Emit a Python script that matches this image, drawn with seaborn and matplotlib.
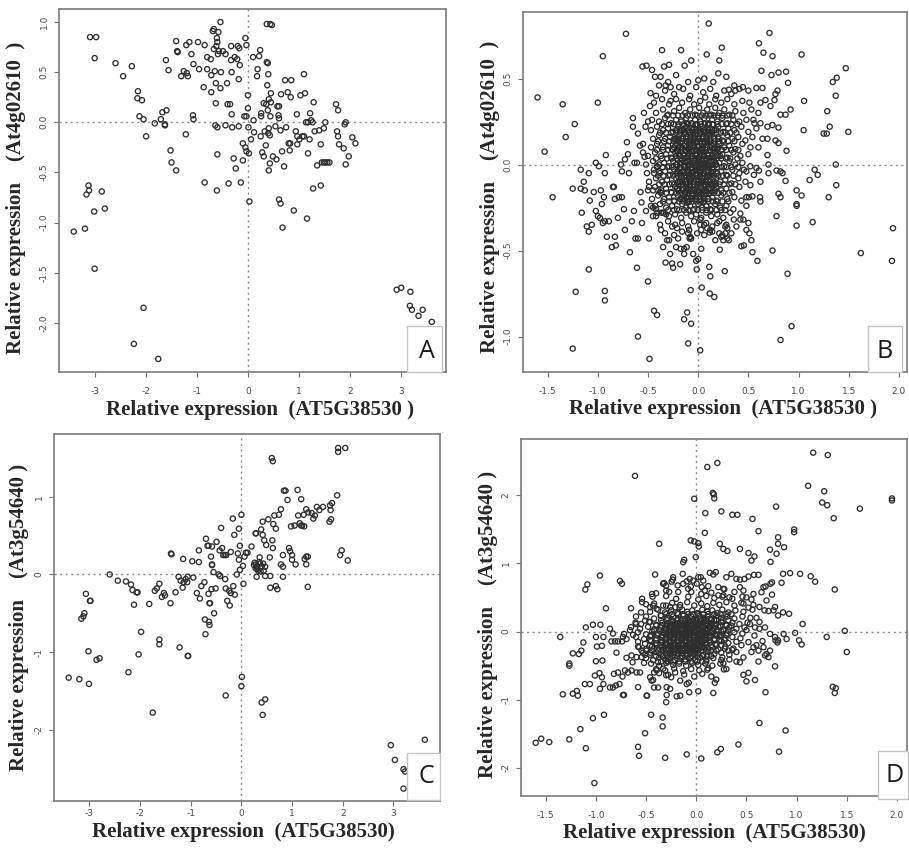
import numpy as np
import matplotlib
matplotlib.use('Agg')
import matplotlib.pyplot as plt
import seaborn as sns
from matplotlib.patches import Rectangle

sns.set_style('ticks')
plt.rcParams['font.family'] = ['DejaVu Sans']
plt.rcParams['axes.unicode_minus'] = False

# ---- data: (x, y) pairs, flattened ----
# A: AT5G38530 vs At4g02610 (set 1)
a_xy = [
    -3.10, 0.85, -2.98, 0.85, -3.01, 0.64, -2.60, 0.59, -2.45, 0.46, -2.28, 0.56, -2.16, 0.31, -2.17, 0.24,
    -2.08, 0.22, -2.13, 0.06, -2.05, 0.03, -2.00, -0.14, -1.83, -0.01, -1.71, 0.03, -1.68, 0.10, -1.60, 0.12,
    -1.63, -0.02, -1.63, -0.03, -1.61, 0.62, -1.56, 0.52, -1.52, -0.28, -1.50, -0.40, -1.41, -0.48, -1.41, 0.81,
    -1.39, 0.71, -1.38, 0.70, -1.31, 0.46, -1.26, 0.51, -1.20, 0.49, -1.18, 0.46, -1.22, -0.12, -1.21, 0.77,
    -1.15, 0.80, -1.11, 0.68, -1.08, 0.07, -1.07, 0.03, -1.07, 0.58, -0.98, 0.80, -0.96, 0.53, -0.87, 0.35,
    -0.85, 0.77, -0.85, -0.60, -0.80, 0.53, -0.80, 0.65, -0.73, 0.63, -0.72, 0.30, -0.72, 0.47, -0.65, 0.51,
    -0.69, 0.91, -0.67, 0.93, -0.67, 0.73, -0.62, 0.76, -0.63, 0.39, -0.64, -0.03, -0.63, 0.19, -0.61, 0.84,
    -0.60, 0.80, -0.60, -0.05, -0.60, -0.32, -0.61, -0.68, -0.58, 0.90, -0.59, 0.68, -0.57, 0.71, -0.54, 1.00,
    -0.54, 0.34, -0.53, 0.50, -0.49, 0.71, -0.44, 0.68, -0.44, -0.03, -0.41, 0.39, -0.40, 0.18, -0.38, -0.61,
    -0.35, 0.18, -0.33, 0.76, -0.33, 0.62, -0.26, 0.65, -0.21, 0.63, -0.32, 0.50, -0.32, 0.08, -0.31, -0.05,
    -0.28, -0.36, -0.24, -0.46, -0.20, 0.76, -0.17, 0.74, -0.03, 0.77, -0.05, 0.84, -0.16, 0.57, -0.18, 0.43,
    -0.18, -0.04, -0.14, -0.60, -0.10, -0.38, -0.10, -0.21, -0.05, -0.25, -0.03, -0.29, 0.02, -0.31, -0.07, 0.06,
    -0.03, 0.06, 0.00, 0.27, 0.00, 0.14, 0.01, -0.05, 0.03, -0.79, 0.06, -0.17, 0.10, 0.65, 0.11, 0.02,
    0.12, -0.10, 0.18, 0.46, 0.22, 0.66, 0.19, 0.53, 0.24, 0.72, 0.25, -0.14, 0.26, 0.09, 0.26, 0.06,
    0.28, -0.30, 0.31, -0.34, 0.31, 0.19, 0.36, 0.18, 0.33, -0.09, 0.35, -0.23, 0.37, 0.60, 0.39, 0.59,
    0.37, 0.98, 0.44, 0.98, 0.47, 0.97, 0.40, 0.48, 0.38, 0.37, 0.39, 0.12, 0.41, -0.06, 0.40, -0.11,
    0.43, -0.13, 0.41, 0.23, 0.43, -0.41, 0.41, -0.48, 0.45, 0.29, 0.44, 0.06, 0.45, 0.20, 0.49, -0.34,
    0.54, -0.04, 0.56, -0.37, 0.58, 0.16, 0.61, 0.16, 0.60, 0.07, 0.61, 0.04, 0.61, -0.77, 0.64, -0.81,
    0.64, -0.08, 0.65, 0.28, 0.67, -0.29, 0.68, -1.05, 0.71, -0.44, 0.73, 0.42, 0.85, 0.42, 0.75, -0.05,
    0.78, 0.30, 0.80, -0.21, 0.83, -0.21, 0.82, -0.28, 0.84, 0.25, 0.90, -0.88, 0.94, -0.09, 0.97, -0.14,
    0.97, -0.22, 0.96, 0.08, 1.01, -0.17, 1.03, 0.27, 1.07, -0.14, 1.10, -0.14, 1.10, 0.48, 1.12, 0.29,
    1.14, 0.00, 1.18, 0.00, 1.16, -0.96, 1.18, -0.31, 1.21, -0.17, 1.22, 0.09, 1.24, 0.02, 1.27, 0.00,
    1.28, -0.66, 1.29, 0.20, 1.31, -0.09, 1.36, -0.43, 1.40, -0.08, 1.43, -0.22, 1.43, -0.63, 1.45, -0.40,
    1.49, -0.40, 1.52, -0.40, 1.56, -0.40, 1.60, -0.40, 1.52, 0.00, 1.49, -0.06, 1.73, 0.18, 1.77, 0.12,
    1.75, -0.09, 1.77, -0.14, 1.79, -0.22, 1.88, -0.26, 1.90, -0.02, 1.92, 0.00, 1.92, -0.42, 1.98, -0.34,
    2.05, -0.15, 2.11, -0.21, -3.42, -1.09, -3.20, -1.06, -3.17, -0.72, -3.13, -0.63, -3.12, -0.68, -3.02, -0.89,
    -2.87, -0.69, -2.81, -0.86, -3.01, -1.46, -2.05, -1.85, -2.24, -2.21, -1.76, -2.36, 2.92, -1.67, 3.01, -1.65,
    3.19, -1.69, 3.18, -1.83, 3.22, -1.87, 3.35, -1.93, 3.43, -1.87, 3.61, -1.99, 3.61, -2.08,
]

# B: AT5G38530 vs At4g02610 (set 2)
b_xy = [
    # outer points
    -1.60, 0.39, -1.53, 0.075, -1.45, -0.19, -1.35, 0.35, -1.32, 0.16, -1.23, 0.235, -1.17, -0.03, -1.14, -0.10,
    -1.25, -0.14, -1.17, -0.14, -1.13, -0.15, -1.16, -0.28, -1.09, -0.05, -1.08, -0.21, -1.11, -0.36, -1.09, -0.39,
    -1.06, -0.35, -1.04, -0.16, -1.02, 0.01, -1.00, 0.36, -0.99, -0.01, -1.02, -0.27, -1.00, -0.30, -0.98, -0.31,
    -0.97, -0.15, -0.96, -0.23, -0.94, -0.19, -0.95, -0.34, -0.93, -0.33, -0.95, 0.63, -0.93, -0.05, -0.92, 0.055,
    -0.91, -0.42, -0.89, -0.33, -0.85, -0.13, -0.84, -0.13, -0.86, -0.48, -0.83, -0.42, -0.82, -0.47, -0.80, -0.31,
    -0.83, -0.20, -0.79, -0.19, -0.77, 0.00, -0.76, -0.04, -0.76, -0.19, -0.74, -0.26, -0.73, 0.03, -0.73, -0.38,
    -0.72, 0.76, -0.71, 0.13, -0.70, 0.06, -0.69, -0.05, -0.68, -0.51, -0.66, -0.33, -0.65, 0.27, -0.65, 0.22,
    -0.64, -0.27, -0.635, 0.01, -0.61, 0.01, -0.625, -0.43, -0.60, -0.43, -0.61, -0.60, -0.60, -1.00, -0.60, 0.18,
    -0.58, 0.11, -0.575, -0.16, -0.565, -0.22, -0.555, 0.57, -0.515, 0.575, -0.54, 0.30, -0.56, -0.34, -0.55, 0.07,
    -0.535, 0.045, -0.525, 0.22, -0.52, -0.27, -0.50, -0.68, -0.49, -0.43, -0.485, -1.13, -0.475, 0.415, -0.46, 0.55,
    -0.44, -0.85, -0.41, -0.875, -0.43, 0.51, -0.36, 0.665, -0.34, 0.57, -0.29, 0.58, -0.17, 0.665, -0.07, 0.605,
    -0.135, 0.575, -0.39, 0.46, -0.375, 0.51, -0.37, -0.38, -0.35, -0.48, -0.325, -0.57, -0.26, -0.575, -0.25, -0.60,
    -0.325, 0.46, -0.275, 0.45, -0.275, 0.37, -0.29, -0.44, -0.19, 0.45, -0.175, -0.49, -0.14, -0.49, -0.115, -0.48,
    -0.14, -0.90, -0.11, -0.86, -0.10, -1.04, -0.075, -0.73, -0.07, -0.925, -0.02, -0.56, 0.00, -0.55, 0.03, -0.49,
    -0.015, -0.61, 0.02, -1.08, 0.035, -0.715, 0.085, 0.64, 0.105, 0.82, 0.11, -0.595, 0.12, -0.65, 0.115, -0.75,
    0.16, -0.77, 0.21, 0.605, 0.235, 0.68, 0.265, -0.62, 0.305, 0.435, 0.37, 0.43, 0.445, 0.45, 0.43, -0.475,
    0.455, -0.47, 0.50, -0.34, 0.51, -0.40, 0.53, -0.44, 0.54, -0.51, 0.59, -0.56, 0.605, 0.705, 0.65, 0.65,
    0.71, 0.765, 0.74, 0.63, 0.63, 0.545, 0.73, 0.52, 0.80, 0.535, 0.875, 0.54, 0.895, 0.475, 0.74, -0.50,
    0.89, -0.635, 0.93, -0.94, 0.82, -1.02, 1.03, 0.64, 1.055, 0.37, 1.05, 0.20, 0.98, -0.15, 1.03, -0.18,
    0.98, -0.23, 0.98, -0.24, 0.98, -0.355, 1.11, -0.09, 1.16, -0.03, 1.19, -0.06, 1.14, -0.335, 1.285, 0.31,
    1.31, 0.22, 1.25, 0.18, 1.28, 0.18, 1.30, -0.19, 1.34, 0.48, 1.38, 0.505, 1.37, 0.40, 1.37, 0.00,
    1.375, -0.12, 1.47, 0.56, 1.495, 0.19, 1.62, -0.515, 1.94, -0.37, 1.93, -0.56, -1.22, -0.74, -1.25, -1.07,
    -1.09, -0.61, -0.93, -0.735, -0.93, -0.79,
    # middle ring
    0.58, 0.445, 0.64, 0.445, 0.62, 0.36, 0.67, 0.375, 0.72, 0.34, 0.76, 0.375, 0.79, 0.43, 0.77, 0.41,
    0.82, 0.29, 0.87, 0.29, 0.92, 0.32, 0.69, 0.22, 0.74, 0.23, 0.80, 0.215, 0.64, 0.15, 0.69, 0.15,
    0.77, 0.14, 0.80, 0.125, 0.88, 0.08, 0.69, 0.055, 0.70, 0.00, 0.62, -0.10, 0.70, -0.05, 0.78, -0.035,
    0.82, -0.04, 0.84, -0.05, 0.87, -0.095, 0.80, -0.17, 0.82, -0.19, 0.78, -0.30, 0.615, -0.19, 0.62, -0.215,
    0.54, -0.185, 0.505, -0.19, 0.48, -0.19, 0.555, -0.06, 0.605, -0.035, 0.455, -0.03, 0.42, -0.285, 0.45, -0.32,
    0.305, -0.44, 0.29, -0.43, 0.27, -0.40, 0.29, -0.37, 0.215, -0.495, 0.17, -0.44, 0.21, -0.40, 0.24, -0.41,
    0.25, -0.44, 0.19, -0.34, 0.27, -0.36, 0.27, -0.265, 0.355, -0.32, 0.42, -0.32, 0.48, -0.38, 0.12, -0.38,
    0.115, -0.395, 0.09, -0.37, 0.03, -0.38, 0.06, -0.35, 0.02, -0.32, -0.09, -0.38, -0.10, -0.40, -0.07, -0.43,
    -0.14, -0.52, -0.085, -0.43, -0.21, -0.37, -0.26, -0.36, -0.31, -0.44, -0.22, -0.48, -0.32, -0.29, -0.34, -0.28,
    -0.37, -0.28, -0.42, -0.26, -0.47, -0.24, -0.43, -0.24, -0.41, -0.28, -0.45, -0.30, -0.45, -0.15, -0.40, -0.15,
    -0.38, -0.16, -0.49, -0.13, -0.44, -0.05, -0.39, -0.04, -0.41, -0.01, -0.55, 0.12, -0.50, 0.25, -0.48, 0.34,
    -0.42, 0.40, -0.30, 0.48, -0.22, 0.52, -0.10, 0.48, 0.00, 0.49, 0.06, 0.50, 0.15, 0.48, 0.20, 0.53,
    0.28, 0.51, 0.36, 0.46, 0.50, 0.43, 0.55, 0.26, 0.60, 0.30, 0.62, 0.24, 0.60, 0.10, 0.58, -0.02,
    0.52, -0.12, 0.48, -0.24, 0.38, -0.36, 0.33, -0.40, -0.20, -0.43, -0.28, -0.52, -0.18, -0.58, -0.05, -0.52,
    # dense core
    -0.33, 0.43, -0.24, 0.41, -0.15, 0.44, -0.08, 0.40, -0.02, 0.45, 0.05, 0.42, 0.12, 0.44, 0.18, 0.40,
    0.26, 0.43, 0.33, 0.41, 0.41, 0.44,
    -0.44, 0.36, -0.36, 0.38, -0.29, 0.35, -0.22, 0.38, -0.16, 0.36, -0.09, 0.38, -0.04, 0.35, 0.02, 0.37,
    0.07, 0.39, 0.11, 0.35, 0.17, 0.38, 0.23, 0.36, 0.29, 0.38, 0.36, 0.35, 0.44, 0.37, 0.51, 0.36,
    -0.42, 0.30, -0.35, 0.32, -0.30, 0.29, -0.24, 0.31, -0.19, 0.33, -0.13, 0.30, -0.08, 0.32, -0.03, 0.29,
    0.01, 0.33, 0.05, 0.30, 0.09, 0.32, 0.13, 0.29, 0.17, 0.33, 0.21, 0.30, 0.26, 0.32, 0.31, 0.29,
    0.37, 0.31, 0.45, 0.30, 0.53, 0.32,
    -0.46, 0.26, -0.39, 0.25, -0.33, 0.27, -0.27, 0.24, -0.22, 0.26, -0.17, 0.25, -0.12, 0.27, -0.07, 0.24,
    -0.03, 0.26, 0.02, 0.25, 0.06, 0.27, 0.10, 0.24, 0.14, 0.26, 0.19, 0.25, 0.24, 0.27, 0.29, 0.24,
    0.35, 0.26, 0.41, 0.25, 0.48, 0.26, 0.56, 0.24,
    -0.47, 0.20, -0.41, 0.22, -0.35, 0.20, -0.30, 0.21, -0.25, 0.19, -0.20, 0.22, -0.16, 0.20, -0.12, 0.22,
    -0.08, 0.19, -0.04, 0.21, 0.00, 0.20, 0.04, 0.22, 0.08, 0.19, 0.12, 0.21, 0.16, 0.20, 0.20, 0.22,
    0.25, 0.19, 0.30, 0.21, 0.36, 0.20, 0.43, 0.22, 0.50, 0.19, 0.58, 0.21,
    -0.45, 0.15, -0.39, 0.17, -0.33, 0.15, -0.28, 0.16, -0.23, 0.14, -0.19, 0.17, -0.15, 0.15, -0.11, 0.16,
    -0.07, 0.14, -0.03, 0.17, 0.01, 0.15, 0.05, 0.16, 0.09, 0.14, 0.12, 0.17, 0.16, 0.15, 0.20, 0.16,
    0.24, 0.14, 0.29, 0.17, 0.34, 0.15, 0.40, 0.16, 0.47, 0.14, 0.54, 0.16,
    -0.47, 0.10, -0.41, 0.12, -0.35, 0.10, -0.30, 0.11, -0.26, 0.09, -0.22, 0.12, -0.18, 0.10, -0.14, 0.11,
    -0.10, 0.09, -0.07, 0.12, -0.04, 0.10, -0.01, 0.11, 0.03, 0.09, 0.06, 0.12, 0.09, 0.10, 0.13, 0.11,
    0.17, 0.09, 0.21, 0.12, 0.26, 0.10, 0.31, 0.11, 0.37, 0.09, 0.44, 0.12, 0.52, 0.10,
    -0.50, 0.05, -0.43, 0.07, -0.37, 0.05, -0.32, 0.06, -0.27, 0.04, -0.23, 0.07, -0.19, 0.05, -0.15, 0.06,
    -0.12, 0.04, -0.09, 0.07, -0.06, 0.05, -0.03, 0.06, 0.00, 0.04, 0.03, 0.07, 0.06, 0.05, 0.09, 0.06,
    0.12, 0.04, 0.16, 0.07, 0.20, 0.05, 0.24, 0.06, 0.29, 0.04, 0.35, 0.07, 0.42, 0.05, 0.50, 0.06,
    -0.52, 0.00, -0.45, 0.02, -0.39, 0.00, -0.34, 0.01, -0.29, -0.01, -0.25, 0.02, -0.21, 0.00, -0.17, 0.01,
    -0.14, -0.01, -0.11, 0.02, -0.08, 0.00, -0.05, 0.01, -0.02, -0.01, 0.01, 0.02, 0.04, 0.00, 0.07, 0.01,
    0.10, -0.01, 0.13, 0.02, 0.17, 0.00, 0.21, 0.01, 0.26, -0.01, 0.31, 0.02, 0.37, 0.00, 0.44, 0.01, 0.52, -0.01,
    -0.51, -0.05, -0.44, -0.03, -0.38, -0.05, -0.33, -0.04, -0.28, -0.06, -0.24, -0.03, -0.20, -0.05, -0.16, -0.04,
    -0.13, -0.06, -0.10, -0.03, -0.07, -0.05, -0.04, -0.04, -0.01, -0.06, 0.02, -0.03, 0.05, -0.05, 0.08, -0.04,
    0.11, -0.06, 0.15, -0.03, 0.19, -0.05, 0.23, -0.04, 0.28, -0.06, 0.34, -0.03, 0.41, -0.05, 0.48, -0.04,
    -0.49, -0.10, -0.42, -0.08, -0.36, -0.10, -0.31, -0.09, -0.26, -0.11, -0.22, -0.08, -0.18, -0.10, -0.14, -0.09,
    -0.11, -0.11, -0.08, -0.08, -0.05, -0.10, -0.02, -0.09, 0.01, -0.11, 0.04, -0.08, 0.07, -0.10, 0.10, -0.09,
    0.14, -0.11, 0.18, -0.08, 0.22, -0.10, 0.27, -0.09, 0.33, -0.11, 0.40, -0.08, 0.47, -0.10,
    -0.50, -0.15, -0.43, -0.13, -0.37, -0.15, -0.32, -0.14, -0.27, -0.16, -0.23, -0.13, -0.19, -0.15, -0.15, -0.14,
    -0.12, -0.16, -0.09, -0.13, -0.06, -0.15, -0.03, -0.14, 0.00, -0.16, 0.03, -0.13, 0.06, -0.15, 0.10, -0.14,
    0.14, -0.16, 0.18, -0.13, 0.23, -0.15, 0.28, -0.14, 0.34, -0.16, 0.41, -0.13,
    -0.46, -0.20, -0.40, -0.18, -0.34, -0.20, -0.29, -0.19, -0.24, -0.21, -0.20, -0.18, -0.16, -0.20, -0.12, -0.19,
    -0.09, -0.21, -0.06, -0.18, -0.03, -0.20, 0.00, -0.19, 0.03, -0.21, 0.06, -0.18, 0.10, -0.20, 0.14, -0.19,
    0.18, -0.21, 0.23, -0.18, 0.29, -0.20, 0.36, -0.19, 0.43, -0.21,
    -0.45, -0.25, -0.38, -0.23, -0.32, -0.25, -0.26, -0.24, -0.21, -0.26, -0.16, -0.23, -0.12, -0.25, -0.08, -0.24,
    -0.04, -0.26, 0.00, -0.23, 0.04, -0.25, 0.08, -0.24, 0.12, -0.26, 0.17, -0.23, 0.22, -0.25, 0.28, -0.24,
    0.35, -0.26,
    -0.42, -0.30, -0.35, -0.28, -0.29, -0.30, -0.23, -0.29, -0.17, -0.31, -0.12, -0.28, -0.07, -0.30, -0.02, -0.29,
    0.03, -0.31, 0.08, -0.28, 0.13, -0.30, 0.19, -0.29, 0.25, -0.31, 0.32, -0.28,
    -0.38, -0.35, -0.30, -0.33, -0.23, -0.35, -0.16, -0.34, -0.10, -0.36, -0.04, -0.33, 0.02, -0.35, 0.08, -0.34,
    0.14, -0.36, 0.21, -0.33, 0.28, -0.35,
    -0.33, -0.40, -0.24, -0.41, -0.16, -0.39, -0.08, -0.42, -0.01, -0.40, 0.06, -0.41, 0.14, -0.39, 0.23, -0.42,
    -0.18, 0.13, -0.13, 0.19, -0.09, 0.13, -0.05, 0.18, -0.01, 0.13, 0.03, 0.19, 0.07, 0.13, 0.11, 0.18,
    0.15, 0.12, -0.20, 0.08, -0.16, 0.03, -0.12, 0.08, -0.08, 0.02, -0.04, 0.08, 0.00, 0.02, 0.04, 0.08,
    0.08, 0.03, 0.12, 0.08, 0.16, 0.02, -0.18, -0.02, -0.14, -0.07, -0.10, -0.01, -0.06, -0.07, -0.02, -0.02,
    0.02, -0.07, 0.06, -0.01, 0.10, -0.07, 0.14, -0.02, -0.17, -0.12, -0.13, -0.17, -0.09, -0.12, -0.05, -0.17,
    -0.01, -0.12, 0.03, -0.17, 0.07, -0.12, 0.11, -0.17, 0.15, -0.12, -0.22, 0.15, 0.19, 0.09, -0.21, -0.14,
    0.17, -0.15, -0.03, 0.23, 0.05, -0.22, -0.11, 0.24, 0.10, 0.23, -0.10, -0.22, 0.01, 0.03, -0.01, -0.03,
    0.09, 0.00, -0.08, 0.10,
]

# B: extra rows of the blackened centre, (y, x positions along the row)
b_core_rows = [
    (0.285, [-0.31, -0.25, -0.20, -0.155, -0.105, -0.055, -0.01, 0.035, 0.075, 0.115, 0.155, 0.195, 0.24, 0.29, 0.34]),
    (0.235, [-0.36, -0.30, -0.245, -0.195, -0.145, -0.10, -0.055, -0.015, 0.025, 0.065, 0.105, 0.145, 0.19, 0.235,
             0.28, 0.33, 0.39]),
    (0.185, [-0.38, -0.32, -0.27, -0.22, -0.175, -0.135, -0.095, -0.055, -0.02, 0.02, 0.06, 0.10, 0.14, 0.18,
             0.225, 0.27, 0.32, 0.38]),
    (0.135, [-0.40, -0.34, -0.29, -0.245, -0.20, -0.16, -0.12, -0.085, -0.05, -0.015, 0.02, 0.055, 0.09, 0.125,
             0.165, 0.21, 0.255, 0.30, 0.36]),
    (0.085, [-0.41, -0.35, -0.30, -0.255, -0.21, -0.17, -0.13, -0.095, -0.06, -0.025, 0.01, 0.045, 0.08, 0.115,
             0.15, 0.19, 0.235, 0.28, 0.33, 0.40]),
    (0.035, [-0.42, -0.36, -0.31, -0.26, -0.215, -0.175, -0.135, -0.10, -0.065, -0.03, 0.005, 0.04, 0.075, 0.11,
             0.145, 0.185, 0.23, 0.275, 0.32, 0.39]),
    (-0.015, [-0.41, -0.355, -0.305, -0.26, -0.215, -0.175, -0.135, -0.10, -0.065, -0.03, 0.005, 0.04, 0.075,
              0.11, 0.15, 0.19, 0.235, 0.28, 0.33, 0.40]),
    (-0.065, [-0.40, -0.345, -0.295, -0.25, -0.205, -0.165, -0.125, -0.09, -0.055, -0.02, 0.015, 0.05, 0.085,
              0.12, 0.16, 0.20, 0.245, 0.29, 0.35]),
    (-0.115, [-0.39, -0.335, -0.285, -0.24, -0.195, -0.155, -0.115, -0.08, -0.045, -0.01, 0.025, 0.06, 0.095,
              0.13, 0.17, 0.21, 0.255, 0.31, 0.37]),
    (-0.165, [-0.37, -0.315, -0.265, -0.22, -0.175, -0.135, -0.095, -0.06, -0.025, 0.01, 0.045, 0.08, 0.12, 0.16,
              0.20, 0.25, 0.31]),
    (-0.215, [-0.35, -0.29, -0.24, -0.19, -0.145, -0.10, -0.06, -0.02, 0.02, 0.06, 0.10, 0.145, 0.19, 0.24, 0.30]),
    (-0.265, [-0.30, -0.24, -0.19, -0.14, -0.095, -0.05, -0.005, 0.04, 0.085, 0.13, 0.18, 0.23]),
    (0.200, [-0.22, -0.18, -0.14, -0.10, -0.06, -0.02, 0.02, 0.06, 0.10, 0.14, 0.18]),
    (0.150, [-0.24, -0.20, -0.16, -0.12, -0.08, -0.04, 0.00, 0.04, 0.08, 0.12, 0.16, 0.20]),
    (0.100, [-0.24, -0.20, -0.16, -0.12, -0.08, -0.04, 0.00, 0.04, 0.08, 0.12, 0.16, 0.20]),
    (0.050, [-0.22, -0.18, -0.14, -0.10, -0.06, -0.02, 0.02, 0.06, 0.10, 0.14, 0.18, 0.22]),
    (0.000, [-0.22, -0.18, -0.14, -0.10, -0.06, -0.02, 0.02, 0.06, 0.10, 0.14, 0.18]),
    (-0.050, [-0.22, -0.18, -0.14, -0.10, -0.06, -0.02, 0.02, 0.06, 0.10, 0.14, 0.18]),
    (-0.100, [-0.20, -0.16, -0.12, -0.08, -0.04, 0.00, 0.04, 0.08, 0.12, 0.16]),
    (-0.150, [-0.20, -0.16, -0.12, -0.08, -0.04, 0.00, 0.04, 0.08, 0.12]),
    (-0.200, [-0.18, -0.14, -0.10, -0.06, -0.02, 0.02, 0.06, 0.10]),
]

# C: AT5G38530 vs At3g54640 (set 1)
c_xy = [
    -3.41, -1.33, -3.20, -1.35, -3.01, -1.41, -3.02, -0.99, -2.86, -1.10, -2.80, -1.08, -3.07, -0.25, -2.99, -0.34,
    -2.98, -0.34, -3.16, -0.57, -3.12, -0.54, -3.10, -0.50, -2.60, 0.00, -2.44, -0.08, -2.28, -0.09, -2.18, -0.13,
    -2.15, -0.20, -2.07, -0.23, -2.05, -0.23, -2.12, -0.39, -1.98, -0.74, -2.03, -1.03, -2.23, -1.26, -1.82, -0.38,
    -1.75, -1.78, -1.71, -0.21, -1.67, -0.18, -1.62, -0.12, -1.62, -0.84, -1.62, -0.90, -1.57, -0.29, -1.53, -0.24,
    -1.51, -0.27, -1.40, -0.37, -1.39, 0.27, -1.38, 0.26, -1.30, -0.23, -1.22, -0.94, -1.24, -0.03, -1.20, -0.08,
    -1.15, 0.20, -1.16, -0.17, -1.14, -0.10, -1.10, -0.06, -1.07, -0.10, -1.06, -1.05, -1.05, -1.05, -1.06, -0.03,
    -0.97, 0.17, -0.95, -0.04, -0.88, -0.24, -0.84, 0.16, -0.84, 0.31, -0.82, -0.31, -0.79, -0.15, -0.73, -0.10,
    -0.70, 0.46, -0.72, -0.58, -0.64, -0.61, -0.71, -0.77, -0.67, 0.37, -0.65, 0.37, -0.65, -0.25, -0.63, -0.37,
    -0.62, -0.37, -0.63, -0.65, -0.60, 0.23, -0.58, 0.13, -0.58, 0.12, -0.59, -0.19, -0.58, 0.36, -0.55, 0.03,
    -0.54, -0.50, -0.51, -0.18, -0.49, 0.42, -0.45, 0.00, -0.42, -0.02, -0.43, 0.31, -0.40, 0.60, -0.38, 0.34,
    -0.36, 0.25, -0.33, 0.25, -0.30, 0.25, -0.32, -0.06, -0.31, -0.18, -0.24, -0.21, -0.21, -0.24, -0.31, -1.56,
    -0.28, -0.34, -0.23, -0.40, -0.21, 0.29, -0.17, 0.72, -0.16, -0.15, -0.14, 0.51, -0.13, -0.26, -0.09, 0.00,
    -0.07, 0.27, -0.05, 0.19, -0.05, 0.59, -0.03, 0.37, -0.03, 0.06, 0.00, 0.77, 0.01, -1.32, 0.00, -1.44,
    0.03, 0.11, 0.04, -0.12, 0.06, 0.23, 0.09, 0.28, 0.12, 0.28, 0.20, 0.36, 0.28, 0.53, 0.29, 0.53,
    0.26, 0.15, 0.29, 0.13, 0.30, 0.10, 0.32, 0.07, 0.30, -0.03, 0.36, 0.22, 0.37, 0.14, 0.40, 0.10,
    0.43, 0.14, 0.47, 0.10, 0.39, 0.58, 0.42, 0.68, 0.42, 0.51, 0.45, 0.44, 0.49, 0.38, 0.47, -0.02,
    0.40, -1.65, 0.47, -1.61, 0.42, -1.81, 0.53, 0.71, 0.56, 0.22, 0.57, -0.02, 0.57, -0.17, 0.60, 1.50,
    0.62, 1.46, 0.61, 0.44, 0.62, 0.34, 0.63, 0.65, 0.65, 0.76, 0.68, -0.15, 0.71, -0.19, 0.68, 0.59,
    0.74, 0.77, 0.78, 0.84, 0.78, 0.13, 0.82, 0.10, 0.82, 0.25, 0.82, -0.03, 0.84, 1.08, 0.87, 1.08,
    0.91, 0.96, 0.94, 0.34, 0.96, 0.30, 0.98, 0.62, 1.00, 0.25, 1.00, 0.19, 1.05, 0.63, 1.07, 0.13,
    1.11, 1.09, 1.12, 0.76, 1.15, 0.66, 1.18, 0.97, 1.18, 0.63, 1.20, 0.63, 1.24, 0.62, 1.23, 0.77,
    1.25, 0.20, 1.28, 0.23, 1.31, 0.23, 1.28, 0.13, 1.28, 0.84, 1.32, 0.80, 1.31, -0.16, 1.39, 0.79,
    1.45, 0.76, 1.49, 0.87, 1.54, 0.83, 1.61, 0.87, 1.42, 0.72, 1.75, 0.89, 1.79, 0.92, 1.77, 0.71,
    1.74, 0.68, 1.76, 0.83, 1.89, 1.02, 1.91, 1.58, 1.91, 1.63, 2.05, 1.63, 1.95, 0.25, 1.98, 0.31,
    2.10, 0.18, 2.95, -2.20, 3.03, -2.39, 3.20, -2.51, 3.23, -2.54, 3.20, -2.76, 3.38, -2.76, 3.46, -2.40,
    3.62, -2.42, 3.62, -2.13, 0.25, 0.12, 0.33, 0.05, 0.35, 0.16, 0.28, 0.08, 0.38, 0.04, 0.44, 0.05,
]

# D: AT5G38530 vs At3g54640 (set 2)
d_xy = [
    # outer points
    -1.60, -1.63, -1.545, -1.57, -1.465, -1.62, -1.355, -0.08, -1.33, -0.92, -1.265, -1.58, -1.265, -0.47, -1.265, -0.50,
    -1.23, -0.32, -1.23, -0.91, -1.19, -0.87, -1.18, -0.94, -1.17, -0.33, -1.145, -0.28, -1.155, -1.43, -1.125, -0.16,
    -1.11, -0.77, -1.105, 0.615, -1.085, 0.69, -1.10, -1.71, -1.10, 0.06, -1.06, -0.77, -1.03, 0.10, -1.03, -1.27,
    -1.015, -2.22, -1.01, -0.645, -1.00, -0.08, -0.99, -0.22, -1.00, -0.435, -0.96, 0.82, -0.955, 0.10, -0.965, -0.61,
    -0.94, -0.67, -0.925, -0.77, -0.94, -0.21, -0.925, -0.08, -0.935, -0.425, -0.96, -0.84, -0.92, -1.22, -0.90, 0.34,
    -0.86, 0.04, -0.83, -0.03, -0.86, -0.82, -0.83, -0.82, -0.80, -0.79, -0.765, -0.77, -0.845, -0.145, -0.81, -0.145,
    -0.78, -0.145, -0.74, -0.145, -0.82, -0.62, -0.78, -0.60, -0.795, -0.31, -0.76, 0.74, -0.74, 0.70, -0.735, -0.66,
    -0.73, -0.93, -0.72, -0.93, -0.71, -0.57, -0.68, -0.60, -0.645, -0.57, -0.72, -0.035, -0.695, -0.385, -0.65, 0.34,
    -0.65, 0.065, -0.635, -0.45, -0.61, 2.28, -0.605, 0.13, -0.60, 0.11, -0.595, -0.60, -0.56, -0.60, -0.58, -1.69,
    -0.57, -1.82, -0.58, -0.815, -0.54, 0.48, -0.54, 0.43, -0.51, -1.49, -0.51, 0.16, -0.495, -0.94, -0.49, -0.94,
    -0.46, 0.14, -0.45, -1.22, -0.445, -0.72, -0.44, 0.55, -0.435, 0.51, -0.42, -0.82, -0.41, 0.835, -0.38, -0.82,
    -0.37, 1.285, -0.355, 0.235, -0.335, -1.26, -0.335, -1.39, -0.31, -1.85, -0.30, -1.035, -0.295, -0.815, -0.26, -0.84,
    -0.295, -0.93, -0.32, 0.71, -0.30, 0.67, -0.27, 0.58, -0.23, 0.795, -0.235, 0.76, -0.195, -0.95, -0.16, -0.94,
    -0.13, 1.015, -0.12, 1.05, -0.135, 0.845, -0.095, -1.80, -0.07, -0.89, -0.055, 1.335, -0.02, 1.32, -0.02, 1.945,
    -0.005, 1.09, 0.02, -0.875, 0.02, 1.295, 0.025, 1.245, 0.05, -1.86, 0.085, 1.445, 0.09, 1.735, 0.11, 2.41,
    0.165, 2.03, 0.175, 2.01, 0.18, 1.95, 0.17, -0.90, 0.21, 2.47, 0.21, -1.77, 0.245, -1.72, 0.25, 1.76,
    0.235, 1.285, 0.27, 1.21, 0.31, 1.18, 0.36, 1.71, 0.41, 1.71, 0.42, -1.655, 0.435, 1.21, 0.52, 1.15,
    0.58, 1.10, 0.55, 1.04, 0.56, 1.65, 0.62, 1.47, 0.63, -1.34, 0.69, -0.89, 0.735, 1.20, 0.74, 1.02,
    0.795, 1.83, 0.80, 1.14, 0.815, 1.38, 0.815, 1.285, 0.825, -1.76, 0.875, 1.235, 0.89, -1.45, 0.975, 1.495,
    0.975, 1.455, 1.035, 0.845, 1.06, 0.11, 1.115, 2.135, 1.14, 0.81, 1.185, 0.73, 1.165, 2.62, 1.275, 2.055,
    1.255, 1.89, 1.305, 1.85, 1.31, 2.585, 1.30, -0.08, 1.36, -0.81, 1.39, -0.83, 1.38, -0.90, 1.37, 1.66,
    1.38, 0.615, 1.48, 0.01, 1.50, -0.30, 1.63, 1.80, 1.95, 1.95, 1.95, 1.92, 1.025, -0.13, 1.05, -0.19,
    0.985, -0.02, 0.87, -0.035, 0.90, -0.11, 0.785, -0.51, 0.925, 0.26, 0.865, 0.28, 0.815, 0.235, 0.785, 0.36,
    0.865, 0.845, 0.935, 0.855, 0.85, 0.715, 0.755, 0.72, 0.74, 0.70, 0.755, 0.54, 0.67, 0.65, 0.69, 0.66,
    0.62, 0.83, 0.575, 0.83, 0.52, 0.805, 0.48, 0.77, 0.435, 0.76, 0.62, -0.44, 0.585, -0.71, 0.50, -0.73,
    0.47, -0.635, 0.52, -0.605, 0.435, -0.45, 0.70, -0.33, 0.735, -0.28, 0.67, -0.23, 0.79, -0.13, 0.81, -0.16,
    0.275, -0.555, 0.27, -0.465, 0.20, -0.705, 0.185, -0.75, 0.11, -0.56, 0.36, -0.27, 0.32, -0.28, 0.285, -0.25,
    -0.16, -0.72, -0.095, -0.77, -0.075, -0.75, -0.25, -0.67, -0.28, -0.635, -0.33, -0.545, -0.395, -0.57, -0.42, -0.60,
    -0.46, -0.67, -0.43, -0.71, -0.51, -0.34, -0.545, -0.375, -0.46, 0.355, -0.43, 0.38, -0.395, 0.33, -0.30, 0.38,
    -0.26, 0.355, -0.21, 0.355, -0.165, 0.355, -0.095, 0.735, -0.065, 0.77, -0.03, 0.745, 0.02, 0.795, 0.045, 0.795,
    0.07, 0.745, 0.135, 0.86, 0.17, 0.835, 0.195, 0.87, 0.22, 0.65, 0.27, 0.625, 0.30, 0.795, 0.35, 0.845,
    0.40, 0.77,
    # middle ring
    -0.545, -0.28, -0.495, -0.28, -0.46, -0.31, -0.595, -0.375, -0.645, -0.35, -0.695, -0.11, -0.73, -0.08, -0.33, 0.70,
    -0.245, 0.73, -0.185, 0.675, -0.13, 0.70, -0.08, 0.625, -0.055, 0.66, 0.005, 0.70, 0.055, 0.65, 0.085, 0.60,
    0.12, 0.665, 0.22, 0.53, 0.26, 0.51, 0.33, 0.50, 0.435, 0.65, 0.47, 0.60, 0.50, 0.50, 0.57, 0.55,
    0.65, 0.575, 0.70, 0.455, 0.63, 0.36, 0.68, 0.31, 0.72, 0.30, 0.77, 0.31, 0.535, 0.11, 0.585, 0.06,
    0.63, 0.04, 0.685, 0.06, 0.735, -0.035, 0.785, -0.08, 0.815, -0.13, 0.52, -0.155, 0.57, -0.23, 0.62, -0.28,
    0.685, -0.35, 0.72, -0.375, 0.60, -0.20, 0.66, -0.14, 0.55, -0.30, 0.47, -0.38, 0.40, -0.44, 0.33, -0.41,
    0.26, -0.38, 0.30, -0.55, 0.15, -0.66, 0.06, -0.62, -0.02, -0.66, -0.12, -0.63, -0.21, -0.60, -0.30, -0.64,
    -0.37, -0.61, -0.52, -0.46, -0.58, -0.22, -0.63, -0.05, -0.66, 0.02, -0.60, 0.22, -0.55, 0.28, -0.50, 0.40,
    -0.40, 0.56, -0.30, 0.60, -0.18, 0.58, -0.05, 0.58, 0.05, 0.55, 0.15, 0.57, 0.28, 0.62, 0.38, 0.58,
    0.45, 0.42, 0.52, 0.35, 0.60, 0.20, 0.63, 0.14, 0.58, -0.06, 0.50, 0.02, 0.45, -0.20, 0.40, -0.30,
    # dense core
    -0.30, 0.52, -0.20, 0.48, -0.08, 0.51, 0.02, 0.47, 0.10, 0.52, 0.18, 0.49, 0.27, 0.53, 0.36, 0.48,
    0.46, 0.51, 0.55, 0.47,
    -0.42, 0.41, -0.33, 0.38, -0.24, 0.42, -0.16, 0.39, -0.09, 0.43, -0.02, 0.38, 0.05, 0.41, 0.11, 0.37,
    0.17, 0.42, 0.23, 0.39, 0.30, 0.43, 0.38, 0.38, 0.47, 0.41, 0.57, 0.39,
    -0.46, 0.29, -0.38, 0.32, -0.31, 0.28, -0.25, 0.31, -0.19, 0.27, -0.14, 0.32, -0.09, 0.29, -0.04, 0.31,
    0.01, 0.27, 0.06, 0.32, 0.11, 0.29, 0.16, 0.31, 0.21, 0.27, 0.26, 0.32, 0.32, 0.28, 0.39, 0.31,
    0.47, 0.29, 0.56, 0.32,
    -0.50, 0.22, -0.42, 0.19, -0.35, 0.23, -0.29, 0.20, -0.23, 0.22, -0.18, 0.18, -0.13, 0.23, -0.09, 0.20,
    -0.05, 0.22, -0.01, 0.18, 0.03, 0.23, 0.07, 0.20, 0.11, 0.22, 0.15, 0.18, 0.20, 0.23, 0.25, 0.20,
    0.31, 0.22, 0.38, 0.19, 0.46, 0.22, 0.54, 0.20,
    -0.55, 0.11, -0.47, 0.14, -0.40, 0.10, -0.34, 0.13, -0.29, 0.11, -0.24, 0.14, -0.20, 0.10, -0.16, 0.13,
    -0.12, 0.11, -0.08, 0.14, -0.04, 0.10, 0.00, 0.13, 0.04, 0.11, 0.08, 0.14, 0.12, 0.10, 0.16, 0.13,
    0.20, 0.11, 0.25, 0.14, 0.30, 0.10, 0.36, 0.13, 0.43, 0.11, 0.51, 0.13,
    -0.56, 0.04, -0.48, 0.07, -0.42, 0.03, -0.36, 0.06, -0.31, 0.04, -0.27, 0.07, -0.23, 0.03, -0.19, 0.06,
    -0.15, 0.04, -0.11, 0.07, -0.07, 0.03, -0.03, 0.06, 0.01, 0.04, 0.05, 0.07, 0.09, 0.03, 0.13, 0.06,
    0.17, 0.04, 0.22, 0.07, 0.27, 0.03, 0.33, 0.06, 0.40, 0.04, 0.48, 0.06,
    -0.58, -0.01, -0.50, -0.04, -0.44, 0.00, -0.38, -0.03, -0.33, -0.01, -0.29, -0.04, -0.25, 0.00, -0.21, -0.03,
    -0.17, -0.01, -0.13, -0.04, -0.09, 0.00, -0.05, -0.03, -0.01, -0.01, 0.03, -0.04, 0.07, 0.00, 0.11, -0.03,
    0.15, -0.01, 0.20, -0.04, 0.25, 0.00, 0.31, -0.03, 0.38, -0.01, 0.46, -0.03,
    -0.60, -0.08, -0.52, -0.11, -0.46, -0.07, -0.40, -0.10, -0.35, -0.08, -0.31, -0.11, -0.27, -0.07, -0.23, -0.10,
    -0.19, -0.08, -0.15, -0.11, -0.11, -0.07, -0.07, -0.10, -0.03, -0.08, 0.01, -0.11, 0.05, -0.07, 0.09, -0.10,
    0.13, -0.08, 0.18, -0.11, 0.23, -0.07, 0.29, -0.10, 0.36, -0.08, 0.44, -0.10,
    -0.58, -0.15, -0.51, -0.18, -0.45, -0.14, -0.40, -0.17, -0.35, -0.15, -0.31, -0.18, -0.27, -0.14, -0.23, -0.17,
    -0.19, -0.15, -0.15, -0.18, -0.11, -0.14, -0.07, -0.17, -0.03, -0.15, 0.01, -0.18, 0.05, -0.14, 0.09, -0.17,
    0.14, -0.15, 0.19, -0.18, 0.25, -0.14, 0.32, -0.17, 0.40, -0.15,
    -0.57, -0.23, -0.50, -0.26, -0.44, -0.22, -0.39, -0.25, -0.34, -0.23, -0.30, -0.26, -0.26, -0.22, -0.22, -0.25,
    -0.18, -0.23, -0.14, -0.26, -0.10, -0.22, -0.06, -0.25, -0.02, -0.23, 0.02, -0.26, 0.06, -0.22, 0.11, -0.25,
    0.16, -0.23, 0.22, -0.26, 0.29, -0.22, 0.37, -0.25,
    -0.53, -0.31, -0.46, -0.34, -0.40, -0.30, -0.35, -0.33, -0.30, -0.31, -0.26, -0.34, -0.22, -0.30, -0.18, -0.33,
    -0.14, -0.31, -0.10, -0.34, -0.06, -0.30, -0.02, -0.33, 0.02, -0.31, 0.07, -0.34, 0.12, -0.30, 0.18, -0.33,
    0.25, -0.31, 0.33, -0.34,
    -0.50, -0.39, -0.43, -0.42, -0.37, -0.38, -0.31, -0.41, -0.26, -0.39, -0.21, -0.42, -0.16, -0.38, -0.11, -0.41,
    -0.06, -0.39, -0.01, -0.42, 0.04, -0.38, 0.10, -0.41, 0.17, -0.39, 0.25, -0.42,
    -0.45, -0.47, -0.37, -0.50, -0.30, -0.46, -0.23, -0.49, -0.17, -0.47, -0.10, -0.50, -0.04, -0.46, 0.02, -0.49,
    0.09, -0.47, 0.16, -0.50, 0.24, -0.47,
    -0.40, -0.55, -0.31, -0.57, -0.22, -0.54, -0.13, -0.58, -0.05, -0.55, 0.03, -0.57, 0.12, -0.54,
    -0.25, 0.08, -0.21, 0.01, -0.17, 0.09, -0.13, 0.02, -0.09, 0.08, -0.05, 0.01, -0.01, 0.09, 0.03, 0.02,
    0.07, 0.08, 0.11, 0.01, 0.15, 0.08, -0.27, -0.05, -0.23, -0.12, -0.19, -0.05, -0.15, -0.13, -0.11, -0.04,
    -0.07, -0.12, -0.03, -0.05, 0.01, -0.13, 0.05, -0.04, 0.09, -0.12, 0.13, -0.05, -0.29, -0.19, -0.25, -0.28,
    -0.21, -0.20, -0.17, -0.29, -0.13, -0.20, -0.09, -0.28, -0.05, -0.19, -0.01, -0.28, 0.03, -0.20, -0.33, -0.36,
    -0.24, -0.36, -0.38, -0.45, -0.28, -0.44, -0.35, -0.20, 0.08, 0.17, 0.00, 0.17, -0.08, 0.17, 0.18, 0.16,
    -0.31, 0.06, 0.21, -0.06,
]

# D: extra rows of the blackened centre, (y, x positions along the row)
d_core_rows = [
    (0.255, [-0.30, -0.24, -0.18, -0.13, -0.08, -0.03, 0.02, 0.07, 0.12, 0.18, 0.24, 0.30, 0.35]),
    (0.165, [-0.35, -0.29, -0.24, -0.19, -0.15, -0.11, -0.07, -0.03, 0.01, 0.05, 0.10, 0.15, 0.20, 0.26, 0.32]),
    (0.085, [-0.40, -0.34, -0.29, -0.245, -0.20, -0.16, -0.12, -0.085, -0.05, -0.015, 0.02, 0.06, 0.10, 0.14,
             0.19, 0.24, 0.30, 0.35]),
    (0.015, [-0.42, -0.36, -0.31, -0.27, -0.23, -0.19, -0.15, -0.11, -0.075, -0.04, -0.005, 0.03, 0.07, 0.11,
             0.16, 0.21, 0.27, 0.32]),
    (-0.055, [-0.45, -0.39, -0.34, -0.295, -0.25, -0.21, -0.17, -0.13, -0.095, -0.06, -0.025, 0.01, 0.05, 0.09,
              0.14, 0.19, 0.24, 0.30]),
    (-0.125, [-0.46, -0.40, -0.35, -0.30, -0.26, -0.22, -0.18, -0.14, -0.105, -0.07, -0.035, 0.00, 0.04, 0.08,
              0.13, 0.18, 0.23, 0.28]),
    (-0.200, [-0.46, -0.40, -0.35, -0.305, -0.26, -0.22, -0.18, -0.14, -0.10, -0.065, -0.03, 0.01, 0.05, 0.10,
              0.15, 0.20, 0.25]),
    (-0.280, [-0.44, -0.38, -0.33, -0.28, -0.24, -0.20, -0.16, -0.12, -0.08, -0.04, 0.00, 0.05, 0.10, 0.15, 0.20]),
    (-0.360, [-0.40, -0.34, -0.29, -0.24, -0.19, -0.14, -0.09, -0.04, 0.01, 0.06, 0.11, 0.15]),
    (-0.440, [-0.35, -0.29, -0.23, -0.17, -0.11, -0.05, 0.01, 0.06, 0.10]),
    (0.120, [-0.26, -0.22, -0.18, -0.14, -0.10, -0.06, -0.02, 0.02, 0.06, 0.10, 0.14]),
    (0.050, [-0.30, -0.26, -0.22, -0.18, -0.14, -0.10, -0.06, -0.02, 0.02, 0.06, 0.10, 0.14, 0.18]),
    (-0.020, [-0.32, -0.28, -0.24, -0.20, -0.16, -0.12, -0.08, -0.04, 0.00, 0.04, 0.08, 0.12, 0.16]),
    (-0.090, [-0.34, -0.30, -0.26, -0.22, -0.18, -0.14, -0.10, -0.06, -0.02, 0.02, 0.06, 0.10, 0.14]),
    (-0.160, [-0.34, -0.30, -0.26, -0.22, -0.18, -0.14, -0.10, -0.06, -0.02, 0.02, 0.06, 0.10]),
    (-0.240, [-0.32, -0.28, -0.24, -0.20, -0.16, -0.12, -0.08, -0.04, 0.00, 0.04, 0.08]),
    (-0.320, [-0.30, -0.26, -0.22, -0.18, -0.14, -0.10, -0.06, -0.02, 0.02]),
]

gene_x1 = 'Relative expression  (AT5G38530 )'
gene_x2 = 'Relative expression  (AT5G38530)'
gene_y1 = 'Relative expression    (At4g02610  )'
gene_y2 = 'Relative expression    (At3g54640 )'


def to_points(flat, rows=()):
    pts = np.array(flat, dtype=float).reshape(-1, 2)
    extra = [(xv, yv) for yv, xs in rows for xv in xs]
    if extra:
        pts = np.vstack([pts, np.array(extra)])
    return pts


# ---- layout (figure fractions) ----
panels = [
    dict(pts=to_points(a_xy), letter='A', rect=[0.0649, 0.5624, 0.4258, 0.4270],
         xlim=(-3.71, 3.89), ylim=(-2.49, 1.13),
         xt=[-3, -2, -1, 0, 1, 2, 3], xfmt='{:.0f}', yt=[-2.0, -1.5, -1.0, -0.5, 0.0, 0.5, 1.0], yfmt='{:.1f}',
         xl=gene_x1, yl=gene_y1, xlab=(0.52, -0.104), ylab=(-0.110, 0.48), pad=7,
         box=(0.899, 0.0, 0.091, 0.127), let=(0.951, 0.057)),
    dict(pts=to_points(b_xy, b_core_rows), letter='B', rect=[0.5754, 0.5624, 0.4224, 0.4235],
         xlim=(-1.745, 2.08), ylim=(-1.206, 0.887),
         xt=[-1.5, -1.0, -0.5, 0.0, 0.5, 1.0, 1.5, 2.0], xfmt='{:.1f}', yt=[-1.0, -0.5, 0.0, 0.5], yfmt='{:.1f}',
         xl=gene_x1, yl=gene_y1, xlab=(0.52, -0.104), ylab=(-0.085, 0.486), pad=7,
         box=(0.898, 0.0, 0.089, 0.128), let=(0.943, 0.058)),
    dict(pts=to_points(c_xy), letter='C', rect=[0.0594, 0.0576, 0.4246, 0.4318],
         xlim=(-3.70, 3.92), ylim=(-2.92, 1.81),
         xt=[-3, -2, -1, 0, 1, 2, 3], xfmt='{:.0f}', yt=[-2, -1, 0, 1], yfmt='{:.0f}',
         xl=gene_x2, yl=gene_y2, xlab=(0.49, -0.083), ylab=(-0.090, 0.5), pad=2,
         box=(0.915, 0.003, 0.085, 0.128), let=(0.964, 0.066)),
    dict(pts=to_points(d_xy, d_core_rows), letter='D', rect=[0.5732, 0.0635, 0.4246, 0.4200],
         xlim=(-1.746, 2.10), ylim=(-2.41, 2.82),
         xt=[-1.5, -1.0, -0.5, 0.0, 0.5, 1.0, 1.5, 2.0], xfmt='{:.1f}', yt=[-2, -1, 0, 1, 2], yfmt='{:.0f}',
         xl=gene_x2, yl=gene_y2, xlab=(0.50, -0.104), ylab=(-0.085, 0.48), pad=7,
         box=(0.925, -0.008, 0.078, 0.134), let=(0.969, 0.058)),
]

label_font = dict(family=['Liberation Serif', 'DejaVu Serif'], fontweight='bold', fontsize=15)

fig = plt.figure(figsize=(9.09, 8.5), dpi=100)
for p in panels:
    ax = fig.add_axes(p['rect'])
    pts = p['pts']
    ax.axhline(0, color='#8a8a8a', lw=1.0, ls=(0, (1.5, 2.5)), zorder=1)
    ax.axvline(0, color='#8a8a8a', lw=1.0, ls=(0, (1.5, 2.5)), zorder=1)
    sns.scatterplot(x=pts[:, 0], y=pts[:, 1], ax=ax, marker='o', s=14, facecolor='none',
                    edgecolor='#2e2e2e', linewidth=0.95, legend=False, zorder=2)
    ax.set_xlim(*p['xlim'])
    ax.set_ylim(*p['ylim'])
    ax.set_xticks(p['xt'])
    ax.set_xticklabels([p['xfmt'].format(v) for v in p['xt']])
    ax.set_yticks(p['yt'])
    ax.set_yticklabels([p['yfmt'].format(v) for v in p['yt']], rotation=90, va='center')
    ax.tick_params(axis='both', length=3.5, width=0.8, color='#707070', labelsize=6.5,
                   labelcolor='#4a4a4a')
    ax.tick_params(axis='x', pad=p['pad'])
    ax.tick_params(axis='y', pad=4)
    for sp in ax.spines.values():
        sp.set_color('#7a7a7a')
        sp.set_linewidth(1.2)
    ax.set_xlabel(p['xl'], **label_font)
    ax.set_ylabel(p['yl'], **label_font)
    ax.xaxis.set_label_coords(*p['xlab'])
    ax.xaxis.label.set_va('center')
    ax.yaxis.set_label_coords(*p['ylab'])
    ax.yaxis.label.set_va('center')
    bx, by, bw, bh = p['box']
    ax.add_patch(Rectangle((bx, by), bw, bh, transform=ax.transAxes, facecolor='white',
                           edgecolor='#c4c4c4', lw=1.0, zorder=5, clip_on=False))
    ax.text(p['let'][0], p['let'][1], p['letter'], transform=ax.transAxes, ha='center', va='center',
            fontsize=18, color='#1a1a1a', family=['Open Sans', 'DejaVu Sans'], zorder=6)

fig.savefig('out.png', dpi=100)
